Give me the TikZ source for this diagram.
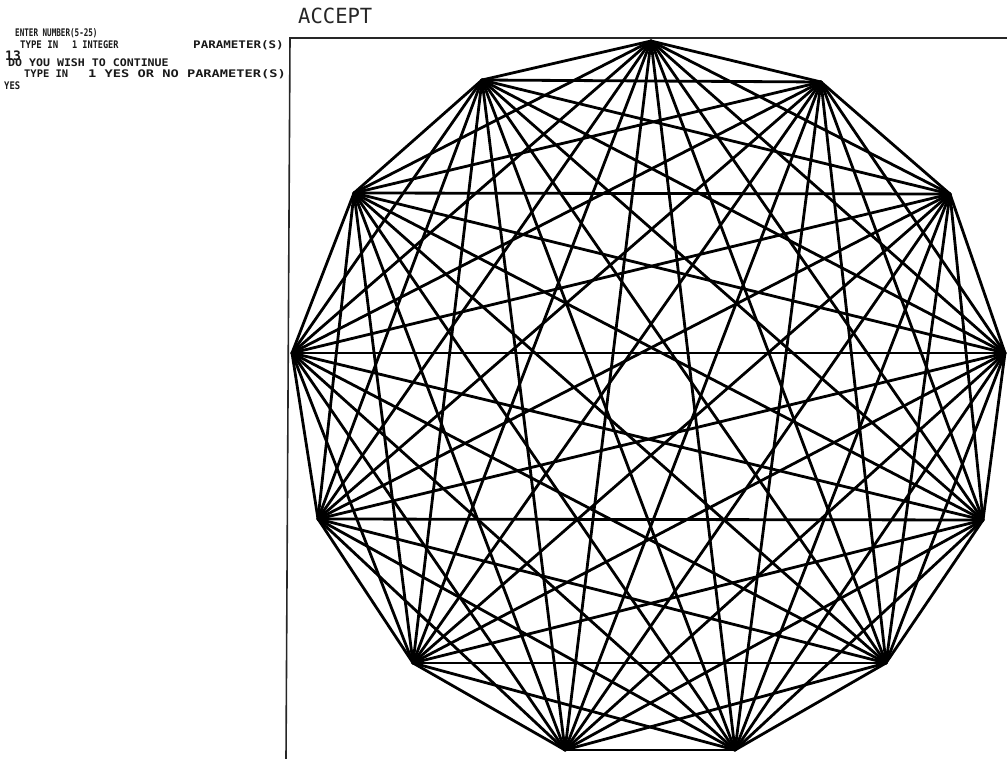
\documentclass[tikz,border=0pt]{standalone}
\usepackage{fontspec}
\setmonofont{DejaVu Sans Mono}
\newcommand{\plotxt}[2]{\scalebox{#1}[1.1]{#2}}
\begin{document}
\begin{tikzpicture}[x=1pt,y=-1pt,
  edge/.style={line width=2.8pt,black,line cap=round},
  frame/.style={line width=1.6pt,black!85},
  tty/.style={font=\ttfamily\bfseries\fontsize{9.5}{9.5}\selectfont,inner sep=0pt,anchor=base west,text=black!90},
  big/.style={font=\ttfamily\fontsize{19}{19}\selectfont,inner sep=0pt,anchor=base west,text=black!85}]
\useasboundingbox (0,0) rectangle (1007,759);
% frame
\coordinate (fc) at (290,38);
\coordinate (fb) at (286,759);
\coordinate (fr) at (1007,38);
\draw[frame] (fb) -- (fc) -- (fr);
% vertices
\coordinate (v0) at (651,41);
\coordinate (v1) at (482,80);
\coordinate (v2) at (354,193);
\coordinate (v3) at (292,353);
\coordinate (v4) at (318,519);
\coordinate (v5) at (413,663);
\coordinate (v6) at (565,750);
\coordinate (v7) at (735,750);
\coordinate (v8) at (886,663);
\coordinate (v9) at (983,520);
\coordinate (v10) at (1005,353);
\coordinate (v11) at (950,194);
\coordinate (v12) at (821,82);
\foreach \i in {0,...,11}{
  \pgfmathtruncatemacro\s{\i+1}
  \foreach \j in {\s,...,12}{
    \draw[edge] (v\i) -- (v\j);
  }
}
% texts
\node[big] (acc) at (298,24) {\plotxt{1.08}{ACCEPT}};
\node[tty] (l1) at (15,37) {\plotxt{0.8}{ENTER NUMBER(5-25)}};
\node[tty] (l2a) at (20,49) {\plotxt{0.95}{TYPE IN}};
\node[tty] (l2b) at (72,49) {\plotxt{0.9}{1 INTEGER}};
\node[tty] (l2c) at (193,49) {\plotxt{1.32}{PARAMETER(S)}};
\node[tty,font=\ttfamily\bfseries\fontsize{13}{13}\selectfont] (n13) at (5,61) {13};
\node[tty] (l3) at (8,67) {\plotxt{1.22}{DO YOU WISH TO CONTINUE}};
\node[tty] (l4a) at (24,78) {\plotxt{1.1}{TYPE IN}};
\node[tty] (l4b) at (88,78) {\plotxt{1.44}{1 YES OR NO PARAMETER(S)}};
\node[tty] (l5) at (4,90) {\plotxt{0.93}{YES}};
\end{tikzpicture}
\end{document}
